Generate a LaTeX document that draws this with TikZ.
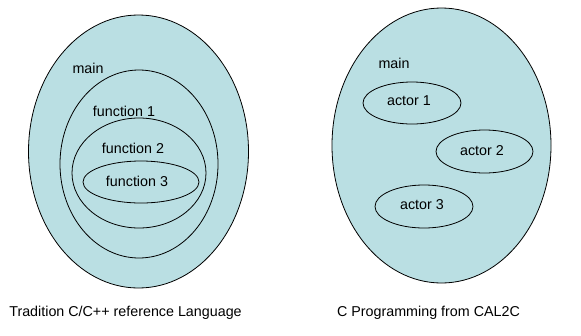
\documentclass[tikz,border=0pt]{standalone}
\usepackage{fontspec}
\setmainfont{Liberation Sans}
\usetikzlibrary{shapes.geometric}
\definecolor{scopefill}{RGB}{186,223,227}
\tikzset{
  scope/.style={ellipse, draw=black, line width=0.8pt, inner sep=0pt},
  lbl/.style={font=\fontsize{14.3}{16}\selectfont, inner sep=0pt}
}
\begin{document}
\begin{tikzpicture}[x=1pt,y=-1pt]
\useasboundingbox (0,0) rectangle (581,335);
  % Left: nested functions
  \node[scope, fill=scopefill, minimum width=220, minimum height=273] (lmain) at (138.5,151.5) {};
  \node[scope, minimum width=158, minimum height=188] (fun1) at (139,164) {};
  \node[scope, minimum width=134, minimum height=110] (fun2) at (139,173) {};
  \node[scope, minimum width=116, minimum height=42]  (fun3) at (141,182) {};
  \node[lbl] (lmainlbl) at (88,68)  {main};
  \node[lbl] (fun1lbl)  at (124,111) {function 1};
  \node[lbl] (fun2lbl)  at (133,148) {function 2};
  \node[lbl] (fun3lbl)  at (137,181) {function 3};

  % Right: actors
  \node[scope, fill=scopefill, minimum width=219, minimum height=275] (rmain) at (441.5,145.5) {};
  \node[scope, minimum width=98, minimum height=42] (act1) at (412,103) {};
  \node[scope, minimum width=97, minimum height=43] (act2) at (484.5,151.5) {};
  \node[scope, minimum width=98, minimum height=43] (act3) at (424,206.5) {};
  \node[lbl] (rmainlbl) at (394,63)  {main};
  \node[lbl] (act1lbl)  at (409,101) {actor 1};
  \node[lbl] (act2lbl)  at (482,151) {actor 2};
  \node[lbl] (act3lbl)  at (422,205) {actor 3};

  % Captions
  \node[lbl] (lcap) at (125.5,313) {Tradition C/C++ reference Language};
  \node[lbl] (rcap) at (428.5,313) {C Programming from CAL2C};
\end{tikzpicture}
\end{document}
